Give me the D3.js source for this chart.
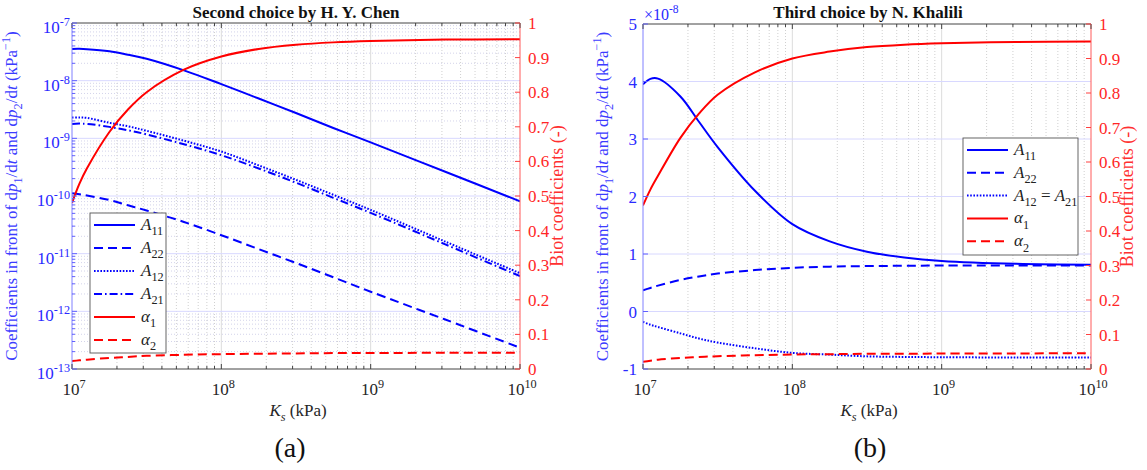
<!DOCTYPE html>
<html><head><meta charset="utf-8">
<script src="https://cdn.jsdelivr.net/npm/d3@7"></script>
<style>
body{margin:0;background:#fff;}
svg, svg text{font-family:'Liberation Serif','Times New Roman',Times,'DejaVu Serif',serif;}
</style>
</head><body>
<svg id="c" width="1147" height="470"></svg>
<script>
// ---------- DATA ----------
const ks = [1e7, 1.12e7, 1.26e7, 1.78e7, 2.37e7, 3.16e7, 5.62e7, 1e8, 1.78e8, 3.16e8, 5.62e8, 1e9, 3.16e9, 1e10];

// Panel (a): Second choice by H. Y. Chen (log scale, kPa^-1)
const aA11 = [3.55e-8, 3.56e-8, 3.52e-8, 3.24e-8, 2.82e-8, 2.40e-8, 1.51e-8, 8.7e-9, 4.9e-9, 2.75e-9, 1.51e-9, 8.5e-10, 2.63e-10, 8.1e-11];
const aA22 = [1.12e-10, 1.07e-10, 1.02e-10, 8.5e-11, 6.9e-11, 5.6e-11, 3.55e-11, 2.09e-11, 1.2e-11, 6.9e-12, 3.9e-12, 2.19e-12, 7.2e-13, 2.34e-13];
const aA12 = [2.29e-9, 2.3e-9, 2.26e-9, 1.86e-9, 1.62e-9, 1.35e-9, 9.1e-10, 5.9e-10, 3.39e-10, 1.91e-10, 1.05e-10, 5.75e-11, 1.62e-11, 4.57e-12];
const aA21 = [1.78e-9, 1.8e-9, 1.78e-9, 1.58e-9, 1.38e-9, 1.17e-9, 7.9e-10, 5.1e-10, 3.0e-10, 1.7e-10, 9.3e-11, 5.1e-11, 1.45e-11, 4.07e-12];
const aAlpha1 = [0.48, 0.535, 0.58, 0.685, 0.75, 0.80, 0.865, 0.903, 0.925, 0.937, 0.944, 0.948, 0.952, 0.953];
const aAlpha2 = [0.023, 0.025, 0.027, 0.032, 0.035, 0.038, 0.041, 0.043, 0.044, 0.045, 0.046, 0.046, 0.047, 0.047];

// Panel (b): Third choice by N. Khalili (linear scale, x1e-8 kPa^-1)
const bA11 = [3.95e-8, 4.045e-8, 4.05e-8, 3.74e-8, 3.30e-8, 2.86e-8, 2.10e-8, 1.52e-8, 1.22e-8, 1.04e-8, 0.94e-8, 0.88e-8, 0.83e-8, 0.815e-8];
const bA22 = [0.37e-8, 0.41e-8, 0.45e-8, 0.55e-8, 0.61e-8, 0.66e-8, 0.72e-8, 0.76e-8, 0.78e-8, 0.79e-8, 0.795e-8, 0.80e-8, 0.80e-8, 0.80e-8];
const bA12 = [-0.18e-8, -0.23e-8, -0.27e-8, -0.38e-8, -0.47e-8, -0.54e-8, -0.64e-8, -0.72e-8, -0.75e-8, -0.78e-8, -0.79e-8, -0.795e-8, -0.80e-8, -0.80e-8];
const bAlpha1 = [0.474, 0.52, 0.56, 0.67, 0.74, 0.795, 0.86, 0.90, 0.92, 0.933, 0.94, 0.944, 0.948, 0.949];
const bAlpha2 = [0.021, 0.024, 0.027, 0.032, 0.035, 0.037, 0.040, 0.042, 0.043, 0.044, 0.044, 0.045, 0.045, 0.046];

const xTickExps = [7, 8, 9, 10];
const aYTickExps = [-13, -12, -11, -10, -9, -8, -7];
const bYTicks = [-1, 0, 1, 2, 3, 4, 5];
const rightTicks = [0, 0.1, 0.2, 0.3, 0.4, 0.5, 0.6, 0.7, 0.8, 0.9, 1];
const rightTickLabels = ["0","0.1","0.2","0.3","0.4","0.5","0.6","0.7","0.8","0.9","1"];

// ---------- DRAWING ----------
const FONT = "'Liberation Serif','Times New Roman',Times,'DejaVu Serif',serif";
const svg = d3.select("#c");
const BLUE = "#0000ff", RED = "#ff0000";
const TBLUE = "#2a2aff", TRED = "#ff2626", GREYTXT = "#262626";
const DASH = {solid: null, dashed: "9,5", dotted: "1.6,1.6", dashdot: "8,3,1.6,3"};

function rich(sel, segs, size) {
  let cur = 0;
  segs.forEach(s => {
    const target = s.k === "sub" ? size * 0.32 : s.k === "sup" ? -size * 0.42 : 0;
    const ts = sel.append("tspan").text(s.t).attr("dy", target - cur);
    cur = target;
    if (s.k === "sub" || s.k === "sup") ts.attr("font-size", size * 0.72);
    if (s.i) ts.attr("font-style", "italic");
  });
  return sel;
}

function panel(o) {
  const g = svg.append("g").attr("font-family", FONT);
  const x = d3.scaleLog().domain([1e7, 1e10]).range([o.x0, o.x1]);
  const yR = d3.scaleLinear().domain([0, 1]).range([o.y1, o.y0]);
  const yL = o.yL;
  const clipId = "clip" + o.id;
  svg.append("clipPath").attr("id", clipId).append("rect")
    .attr("x", o.x0).attr("y", o.y0).attr("width", o.x1 - o.x0).attr("height", o.y1 - o.y0);

  const xMinor = [];
  [7, 8, 9].forEach(d => { for (let m = 2; m <= 9; m++) xMinor.push(m * Math.pow(10, d)); });
  const xMajor = xTickExps.map(e => Math.pow(10, e));

  const grid = g.append("g");
  grid.selectAll(".vm").data(xMinor).join("line")
    .attr("x1", d => x(d)).attr("x2", d => x(d)).attr("y1", o.y0).attr("y2", o.y1)
    .attr("stroke", "#c4c4c4").attr("stroke-width", 0.8).attr("stroke-dasharray", "1,2");
  if (o.log) {
    const yMinor = [];
    aYTickExps.slice(0, -1).forEach(e => { for (let m = 2; m <= 9; m++) yMinor.push(m * Math.pow(10, e)); });
    grid.selectAll(".hm").data(yMinor).join("line")
      .attr("x1", o.x0).attr("x2", o.x1).attr("y1", d => yL(d)).attr("y2", d => yL(d))
      .attr("stroke", "#c8c8e4").attr("stroke-width", 0.8).attr("stroke-dasharray", "1,2");
  }
  grid.selectAll(".vM").data(xMajor.slice(1, -1)).join("line")
    .attr("x1", d => x(d)).attr("x2", d => x(d)).attr("y1", o.y0).attr("y2", o.y1)
    .attr("stroke", "#dcdcdc").attr("stroke-width", 1);
  grid.selectAll(".hM").data(o.yMajor.slice(1, -1)).join("line")
    .attr("x1", o.x0).attr("x2", o.x1).attr("y1", d => yL(d)).attr("y2", d => yL(d))
    .attr("stroke", "#d8d8ff").attr("stroke-width", 1);

  const lines = g.append("g").attr("clip-path", `url(#${clipId})`);
  o.series.forEach(s => {
    const ys = s.right ? yR : yL;
    const ln = d3.line().x((d, i) => x(ks[i])).y(d => ys(d)).curve(d3.curveCatmullRom.alpha(0.5));
    lines.append("path").attr("d", ln(s.v)).attr("fill", "none")
      .attr("stroke", s.c).attr("stroke-width", 2)
      .attr("stroke-dasharray", DASH[s.style]);
  });

  const ax = g.append("g");
  ax.append("line").attr("x1", o.x0).attr("x2", o.x1).attr("y1", o.y1).attr("y2", o.y1).attr("stroke", "#444").attr("stroke-width", 1);
  ax.append("line").attr("x1", o.x0).attr("x2", o.x1).attr("y1", o.y0).attr("y2", o.y0).attr("stroke", "#444").attr("stroke-width", 1);
  ax.append("line").attr("x1", o.x0).attr("x2", o.x0).attr("y1", o.y0).attr("y2", o.y1).attr("stroke", "#8080ff").attr("stroke-width", 1);
  ax.append("line").attr("x1", o.x1).attr("x2", o.x1).attr("y1", o.y0).attr("y2", o.y1).attr("stroke", "#ff5a5a").attr("stroke-width", 1);

  [[xMajor, 5], [xMinor, 3]].forEach(([arr, len]) => {
    arr.forEach(d => {
      ax.append("line").attr("x1", x(d)).attr("x2", x(d)).attr("y1", o.y1).attr("y2", o.y1 - len).attr("stroke", "#444");
      ax.append("line").attr("x1", x(d)).attr("x2", x(d)).attr("y1", o.y0).attr("y2", o.y0 + len).attr("stroke", "#444");
    });
  });
  xTickExps.forEach(e => {
    const t = ax.append("text").attr("x", x(Math.pow(10, e)) + 2).attr("y", o.y1 + 26)
      .attr("text-anchor", "middle").attr("font-size", 17).attr("fill", GREYTXT);
    rich(t, [{t: "10"}, {t: String(e), k: "sup"}], 17);
  });

  o.yMajor.forEach(d => {
    ax.append("line").attr("x1", o.x0).attr("x2", o.x0 + 5).attr("y1", yL(d)).attr("y2", yL(d)).attr("stroke", "#6060ff");
  });
  if (o.log) {
    aYTickExps.slice(0, -1).forEach(e => {
      for (let m = 2; m <= 9; m++) {
        const v = m * Math.pow(10, e);
        ax.append("line").attr("x1", o.x0).attr("x2", o.x0 + 3).attr("y1", yL(v)).attr("y2", yL(v)).attr("stroke", "#6060ff");
      }
    });
    aYTickExps.forEach(e => {
      const t = ax.append("text").attr("x", o.x0 - 2).attr("y", yL(Math.pow(10, e)) + 10)
        .attr("text-anchor", "end").attr("font-size", 17).attr("fill", TBLUE);
      rich(t, [{t: "10"}, {t: String(e), k: "sup"}], 17);
    });
  } else {
    bYTicks.forEach(v => {
      ax.append("text").attr("x", o.x0 - 6).attr("y", yL(v * 1e-8) + 6)
        .attr("text-anchor", "end").attr("font-size", 17).attr("fill", TBLUE).text(String(v));
    });
    const t = ax.append("text").attr("x", o.x0 + 1).attr("y", o.y0 - 4)
      .attr("font-size", 16).attr("fill", TBLUE);
    rich(t, [{t: "×10"}, {t: "-8", k: "sup"}], 16);
  }
  rightTicks.forEach((v, i) => {
    ax.append("line").attr("x1", o.x1).attr("x2", o.x1 - 5).attr("y1", yR(v)).attr("y2", yR(v)).attr("stroke", "#ff4040");
    ax.append("text").attr("x", o.x1 + 8).attr("y", yR(v) + 6).attr("font-size", 17)
      .attr("fill", TRED).text(rightTickLabels[i]);
  });

  g.append("text").attr("x", o.titleX).attr("y", 18).attr("text-anchor", "middle")
    .attr("font-size", 17).attr("font-weight", "bold").attr("fill", "#111").text(o.title);

  const yl = g.append("text").attr("transform", `translate(${o.lblX},${(o.y0 + o.y1) / 2}) rotate(-90)`)
    .attr("text-anchor", "middle").attr("font-size", 17).attr("fill", "#3c3cff");
  rich(yl, [{t: "Coefficients in front of d"}, {t: "p", i: 1}, {t: "1", k: "sub"}, {t: "/d"}, {t: "t", i: 1},
    {t: " and d"}, {t: "p", i: 1}, {t: "2", k: "sub"}, {t: "/d"}, {t: "t", i: 1}, {t: " (kPa"}, {t: "−1", k: "sup"}, {t: ")"}], 17);
  g.append("text").attr("transform", `translate(${o.rlblX},${(o.y0 + o.y1) / 2}) rotate(-90)`)
    .attr("text-anchor", "middle").attr("font-size", 18).attr("fill", "#ff3030").text("Biot coefficients (-)");

  const xl = g.append("text").attr("x", (o.x0 + o.x1) / 2 + 2).attr("y", 416).attr("text-anchor", "middle")
    .attr("font-size", 17).attr("fill", GREYTXT);
  rich(xl, [{t: "K", i: 1}, {t: "s", i: 1, k: "sub"}, {t: " (kPa)"}], 17);

  g.append("text").attr("x", o.letterX).attr("y", 457).attr("text-anchor", "middle")
    .attr("font-size", 28).attr("fill", "#111").text(o.letter);

  const lg = g.append("g");
  lg.append("rect").attr("x", o.leg.x).attr("y", o.leg.y).attr("width", o.leg.w).attr("height", o.leg.h)
    .attr("fill", "#fff").attr("stroke", "#555").attr("stroke-width", 0.9);
  o.leg.items.forEach((it, i) => {
    const yy = o.leg.y + 12 + i * o.leg.step;
    lg.append("line").attr("x1", o.leg.x + 4).attr("x2", o.leg.x + 45).attr("y1", yy).attr("y2", yy)
      .attr("stroke", it.c).attr("stroke-width", 2).attr("stroke-dasharray", DASH[it.style]);
    const t = lg.append("text").attr("x", o.leg.x + 51).attr("y", yy + 5).attr("font-size", 17).attr("fill", "#222");
    rich(t, it.label, 17);
  });
}

const A = (n) => [{t: "A", i: 1}, {t: n, k: "sub"}];
const AL = (n) => [{t: "α", i: 1}, {t: n, k: "sub"}];

panel({
  id: "a", log: true, x0: 72, x1: 520, y0: 23, y1: 369,
  yL: d3.scaleLog().domain([1e-13, 1e-7]).range([369, 23]),
  yMajor: aYTickExps.map(e => Math.pow(10, e)),
  title: "Second choice by H. Y. Chen", titleX: 296, lblX: 17, rlblX: 563, letter: "(a)", letterX: 290,
  series: [
    {v: aA11, c: BLUE, style: "solid"},
    {v: aA22, c: BLUE, style: "dashed"},
    {v: aA12, c: BLUE, style: "dotted"},
    {v: aA21, c: BLUE, style: "dashdot"},
    {v: aAlpha1, c: RED, style: "solid", right: true},
    {v: aAlpha2, c: RED, style: "dashed", right: true}
  ],
  leg: {x: 90, y: 213, w: 76, h: 140, step: 23, items: [
    {c: BLUE, style: "solid", label: A("11")},
    {c: BLUE, style: "dashed", label: A("22")},
    {c: BLUE, style: "dotted", label: A("12")},
    {c: BLUE, style: "dashdot", label: A("21")},
    {c: RED, style: "solid", label: AL("1")},
    {c: RED, style: "dashed", label: AL("2")}
  ]}
});

panel({
  id: "b", log: false, x0: 643, x1: 1091, y0: 24, y1: 369,
  yL: d3.scaleLinear().domain([-1e-8, 5e-8]).range([369, 24]),
  yMajor: bYTicks.map(v => v * 1e-8),
  title: "Third choice by N. Khalili", titleX: 868, lblX: 608, rlblX: 1133, letter: "(b)", letterX: 870,
  series: [
    {v: bA11, c: BLUE, style: "solid"},
    {v: bA22, c: BLUE, style: "dashed"},
    {v: bA12, c: BLUE, style: "dotted"},
    {v: bAlpha1, c: RED, style: "solid", right: true},
    {v: bAlpha2, c: RED, style: "dashed", right: true}
  ],
  leg: {x: 963, y: 138, w: 115, h: 117, step: 22.8, items: [
    {c: BLUE, style: "solid", label: A("11")},
    {c: BLUE, style: "dashed", label: A("22")},
    {c: BLUE, style: "dotted", label: [{t: "A", i: 1}, {t: "12", k: "sub"}, {t: " = "}, {t: "A", i: 1}, {t: "21", k: "sub"}]},
    {c: RED, style: "solid", label: AL("1")},
    {c: RED, style: "dashed", label: AL("2")}
  ]}
});
</script>
</body></html>
